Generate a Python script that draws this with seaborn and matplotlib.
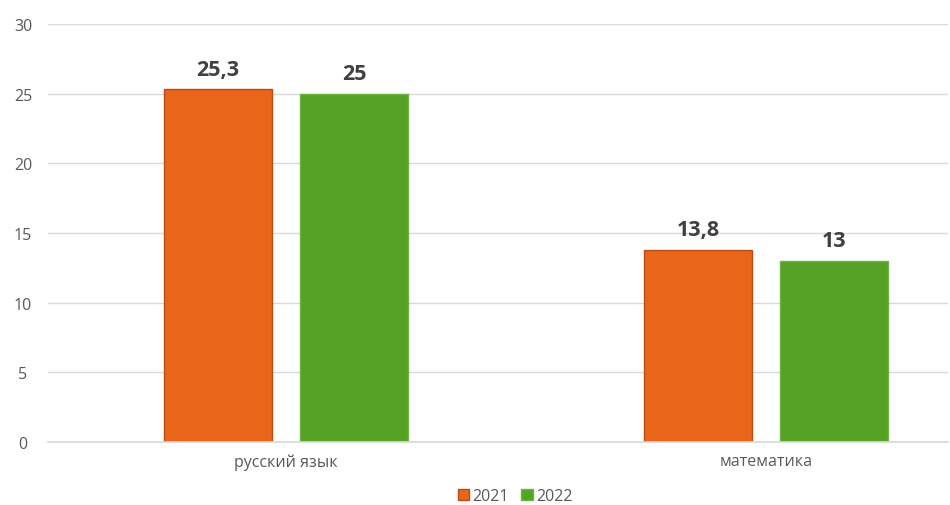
import matplotlib
matplotlib.use("Agg")
import matplotlib.pyplot as plt
import seaborn as sns
import pandas as pd

categories = ["русский язык", "математика"]
years = ["2021", "2022"]
values_2021 = [25.3, 13.8]
values_2022 = [25, 13]
label_2021 = ["25,3", "13,8"]
label_2022 = ["25", "13"]
colors = ["#E8651A", "#56A225"]
edges = ["#B84E12", "#6DB33F"]

df = pd.DataFrame({
    "cat": categories * 2,
    "year": [years[0]] * 2 + [years[1]] * 2,
    "val": values_2021 + values_2022,
})

sns.set_theme(style="white")
plt.rcParams["font.family"] = ["Open Sans", "DejaVu Sans"]

fig = plt.figure(figsize=(9.5, 5.06), dpi=100)
ax = fig.add_axes([48/950, 1-443/506, 900/950, 418/506])

sns.barplot(data=df, x="cat", y="val", hue="year", palette=colors,
            width=0.567, gap=0.206, ax=ax, legend=False, saturation=1)

for i, cont in enumerate(ax.containers):
    for bar in cont:
        bar.set_edgecolor(edges[i])
        bar.set_linewidth(1.0)
    labs = label_2021 if i == 0 else label_2022
    ax.bar_label(cont, labels=labs, padding=7, fontsize=15.5, fontweight="bold",
                 color="#404040")

ax.set_xlim(-0.496, 1.379)
ax.set_ylim(0, 30)
ax.set_yticks(range(0, 31, 5))
ax.grid(axis="y", color="#D9D9D9", linewidth=1)
ax.set_axisbelow(True)
for s in ["top", "right", "left"]:
    ax.spines[s].set_visible(False)
ax.spines["bottom"].set_color("#D9D9D9")
ax.tick_params(axis="both", length=0, labelsize=11.5, colors="#595959", pad=8)
ax.tick_params(axis="y", pad=18)
for t in ax.get_yticklabels():
    t.set_horizontalalignment("center")
ax.set_xlabel("")
ax.set_ylabel("")

from matplotlib.patches import Patch
handles = [Patch(facecolor=colors[i], edgecolor=edges[i], label=years[i]) for i in range(2)]
fig.legend(handles=handles, loc="center", bbox_to_anchor=(515/950, 1-497/506),
           ncol=2, frameon=False, fontsize=11.5, handlelength=0.7, handleheight=0.7,
           handletextpad=0.2, columnspacing=0.8, labelcolor="#595959")

fig.savefig("out.png", dpi=100)
